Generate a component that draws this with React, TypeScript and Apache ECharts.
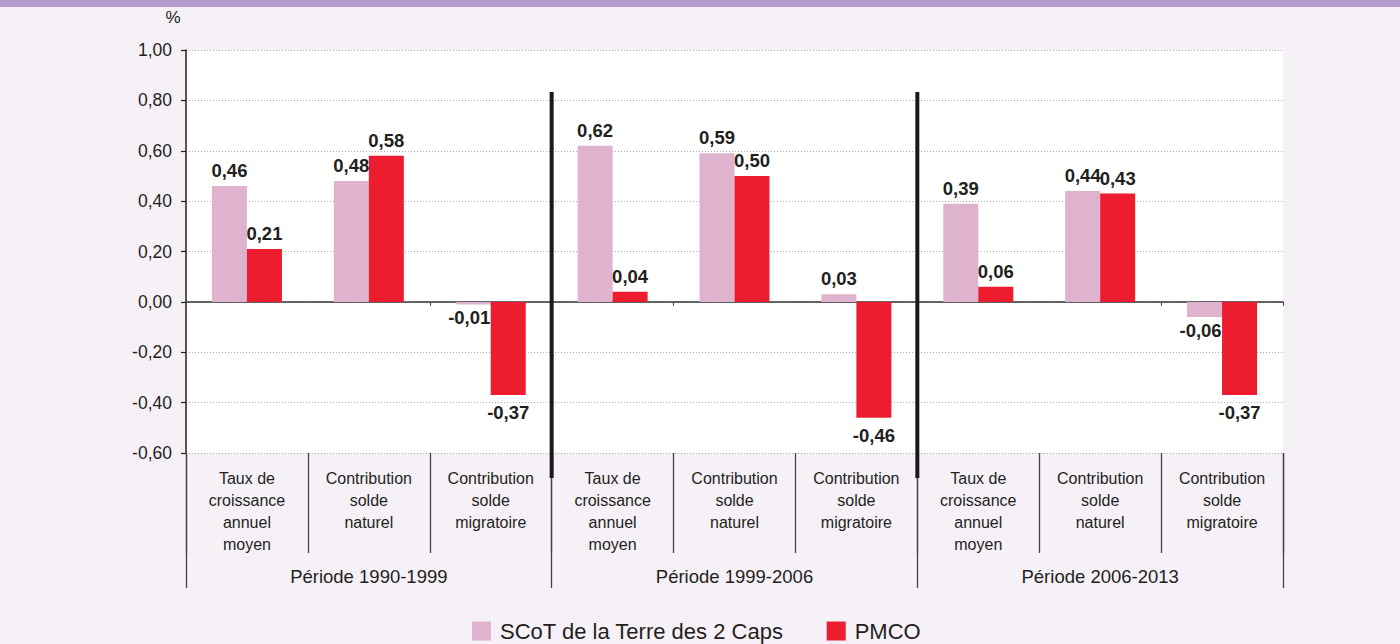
import React, { useEffect, useRef } from "react";
import * as echarts from "echarts";

const periods = ["Période 1990-1999", "Période 1999-2006", "Période 2006-2013"];
const indicators = [
  "Taux de\ncroissance\nannuel\nmoyen",
  "Contribution\nsolde\nnaturel",
  "Contribution\nsolde\nmigratoire",
];
const seriesNames = ["SCoT de la Terre des 2 Caps", "PMCO"];
const scotValues = [0.46, 0.48, -0.01, 0.62, 0.59, 0.03, 0.39, 0.44, -0.06];
const pmcoValues = [0.21, 0.58, -0.37, 0.04, 0.5, -0.46, 0.06, 0.43, -0.37];
const yTicks = { min: -0.6, max: 1.0, interval: 0.2 };

const fmt = (v: number) => (Math.abs(v) < 1e-9 ? 0 : v).toFixed(2).replace(".", ",");

const GRID = { left: 186, top: 50, width: 1097, height: 403 };

export default function App() {
  const ref = useRef<HTMLDivElement>(null);
  useEffect(() => {
    if (!ref.current) return;
    const chart = echarts.init(ref.current, null, { renderer: "svg" });
    const cats: string[] = [];
    periods.forEach((p) => indicators.forEach((ind) => cats.push(p + "|" + ind)));

    const mkData = (vals: number[], neg: any) =>
      vals.map((v) => ({
        value: v,
        label: v < 0 ? { position: "bottom", ...neg } : { position: "top", distance: 6 },
      }));

    const labelBase = {
      show: true,
      formatter: (p: any) => fmt(p.value),
      fontFamily: "Liberation Sans, Arial, sans-serif",
      fontWeight: "bold",
      fontSize: 18.5,
      color: "#231f20",
    };

    const sepXs = [3, 6].map((k) => GRID.left + (GRID.width * k) / 9);

    chart.setOption({
      animation: false,
      backgroundColor: "#f6f1f7",
      textStyle: { fontFamily: "Liberation Sans, Arial, sans-serif" },
      grid: {
        ...GRID,
        show: true,
        backgroundColor: "#ffffff",
        borderWidth: 0,
      },
      legend: {
        left: 467,
        top: 615,
        itemWidth: 19,
        itemHeight: 19,
        itemGap: 43,
        icon: "rect",
        textStyle: { fontSize: 22, lineHeight: 22, color: "#231f20", padding: [0, 0, 0, 4] },
        data: seriesNames,
      },
      xAxis: [
        {
          type: "category",
          data: cats,
          position: "bottom",
          axisLine: { show: true, onZero: true, lineStyle: { color: "#333", width: 1.5 } },
          axisTick: { show: true, length: 4, lineStyle: { color: "#555", width: 1.2 } },
          axisLabel: { show: false },
          splitLine: { show: false },
        },
        {
          type: "category",
          data: cats,
          position: "bottom",
          axisLine: { show: false, onZero: false },
          axisTick: { show: true, length: 100, lineStyle: { color: "#444", width: 1.3 } },
          axisLabel: {
            show: true,
            interval: 0,
            margin: 14,
            fontSize: 16,
            lineHeight: 22,
            color: "#231f20",
            formatter: (v: string) => v.split("|")[1],
          },
        },
        {
          type: "category",
          data: periods,
          position: "bottom",
          axisLine: { show: false, onZero: false },
          axisTick: { show: true, length: 135, lineStyle: { color: "#444", width: 1.3 } },
          axisLabel: { show: true, interval: 0, margin: 114, fontSize: 18.5, color: "#231f20" },
        },
      ],
      yAxis: {
        type: "value",
        min: yTicks.min,
        max: yTicks.max,
        interval: yTicks.interval,
        axisLine: { show: true, lineStyle: { color: "#231f20", width: 1.5 } },
        axisTick: { show: true, length: 5, lineStyle: { color: "#231f20", width: 1.2 } },
        axisLabel: { margin: 14, fontSize: 17.5, color: "#231f20", formatter: (v: number) => fmt(v) },
        splitLine: { show: true, lineStyle: { color: "#aaaaaa", type: [1, 2], width: 1 } },
      },
      series: [
        {
          name: seriesNames[0],
          type: "bar",
          xAxisIndex: 0,
          barWidth: 35,
          barGap: "0%",
          itemStyle: { color: "#dfb3cd" },
          label: labelBase,
          data: mkData(scotValues, { distance: 4, offset: [-4, 0] }),
        },
        {
          name: seriesNames[1],
          type: "bar",
          xAxisIndex: 0,
          barWidth: 35,
          barGap: "0%",
          itemStyle: { color: "#ed1c2e" },
          label: labelBase,
          data: mkData(pmcoValues, { distance: 8 }),
        },
      ],
      graphic: [
        { type: "rect", left: 0, top: 0, shape: { x: 0, y: 0, width: 1400, height: 7 }, style: { fill: "#b39bcb" }, silent: true },
        {
          type: "text",
          x: 173,
          y: 17,
          style: { text: "%", fontSize: 17, fill: "#231f20", align: "center", verticalAlign: "middle", fontFamily: "Liberation Sans, Arial, sans-serif" },
        },
        ...sepXs.map((x) => ({
          type: "line",
          shape: { x1: x, y1: 92, x2: x, y2: 478 },
          style: { stroke: "#1a1a1a", lineWidth: 4 },
          z: 10,
        })),
      ],
    });
    return () => chart.dispose();
  }, []);
  return <div ref={ref} style={{ position: "absolute", left: 0, top: 0, width: 1400, height: 644 }} />;
}
